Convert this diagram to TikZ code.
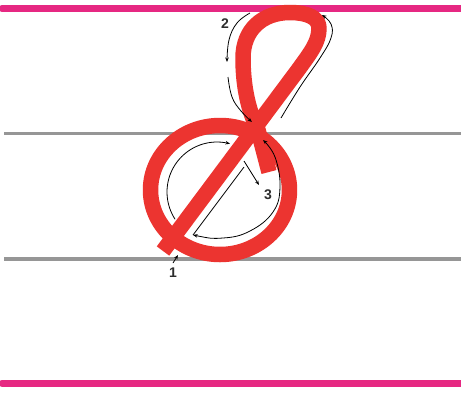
\documentclass[tikz,border=0pt]{standalone}
\usepackage{fontspec}
\setmainfont{Liberation Sans}
\usetikzlibrary{arrows.meta}
\definecolor{magline}{RGB}{230,40,130}
\definecolor{grayline}{RGB}{150,150,150}
\definecolor{redpen}{RGB}{236,52,48}
\definecolor{labelc}{RGB}{45,45,45}
\tikzset{
  magstyle/.style={draw=magline, line width=7pt, line cap=round},
  graystyle/.style={draw=grayline, line width=3.5pt},
  penstroke/.style={draw=redpen, line width=15.5pt, line cap=butt, line join=round},
  guide/.style={draw=black, line width=0.8pt, -{Stealth[length=4.5pt,width=3.5pt]}},
  guideboth/.style={draw=black, line width=0.8pt, {Stealth[length=4.5pt,width=3.5pt]}-{Stealth[length=4.5pt,width=3.5pt]}},
  numlabel/.style={font=\bfseries\fontsize{14}{14}\selectfont, text=labelc, inner sep=0pt}
}
\begin{document}
\begin{tikzpicture}[x=1pt,y=-1pt]
\fill[white] (0,0) rectangle (461,392);
\useasboundingbox (0,0) rectangle (461,392);
% ruling
\draw[magstyle] (2,8.5) -- (470,8.5);
\draw[magstyle] (2,383) -- (470,383);
\draw[graystyle] (4,133.5) -- (461,133.5);
\draw[graystyle] (4,259) -- (461,259);
% red letter
\draw[penstroke] (220,190) ellipse [x radius=69.5pt, y radius=64.5pt];
\draw[penstroke] (163,251) -- (298,70)
  .. controls (311,52) and (319,42) .. (319,28)
  .. controls (319,17) and (306,12.5) .. (290,12.5)
  .. controls (262,12.5) and (243,30) .. (243,58)
  .. controls (243,88) and (249,112) .. (258,130)
  -- (269,172);
% guide arrows
\draw[guide] (173,263) -- (178,255);
\draw[guide] plot[smooth, tension=0.7] coordinates {(281,118) (300,87) (320,58) (331,38) (331,24) (322,15)};
\draw[guide] plot[smooth, tension=0.7] coordinates {(250,13) (237,23) (229,40) (227,62)};
\draw[guide] plot[smooth, tension=0.7] coordinates {(228,77) (232,97) (241,111) (252,122)};
\draw[guide] plot[domain=213:75, samples=40, smooth] ({217+50*cos(\x)}, {192-50*sin(\x)});
\draw[guide] (244,161) -- (259,185);
\draw[guideboth] (244,167) -- (193,235)
  plot[smooth, tension=0.7] coordinates {(193,235) (223,238) (250,231) (273,212) (280,187) (275,157) (263,140)};
% labels
\node[numlabel] (n1) at (173,273) {1};
\node[numlabel] (n2) at (225,24) {2};
\node[numlabel] (n3) at (268,195) {3};
\end{tikzpicture}
\end{document}
